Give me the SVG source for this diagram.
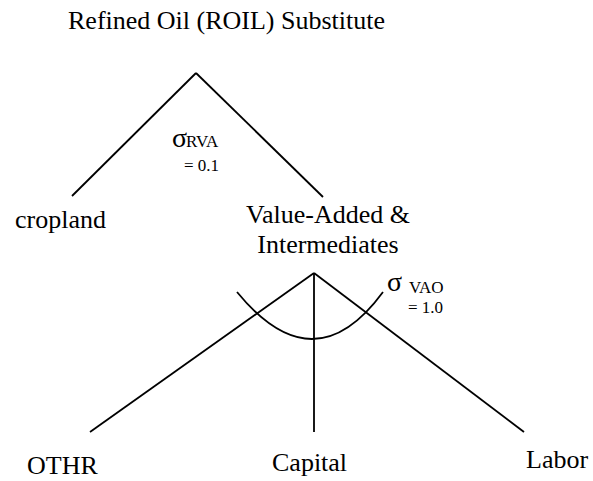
<svg xmlns="http://www.w3.org/2000/svg" width="593" height="481" viewBox="0 0 593 481" font-family="'Liberation Serif', 'Times New Roman', Times, 'DejaVu Serif', serif">
<style>
text{font-family:'Liberation Serif','Times New Roman',Times,'DejaVu Serif',serif;fill:#000}
.lbl{font-size:26px}
.sig{font-size:28px}
.sub{font-size:17px}
.ln{stroke:#000;stroke-width:1.8;fill:none}
</style>
<rect width="593" height="481" fill="#fff"/>
<g id="connectors">
<line class="ln" x1="196" y1="73" x2="72" y2="196"/>
<line class="ln" x1="196" y1="73" x2="323" y2="197"/>
<line class="ln" x1="314" y1="273" x2="90" y2="432"/>
<line class="ln" x1="314" y1="273" x2="314" y2="432"/>
<line class="ln" x1="314" y1="273" x2="524" y2="432"/>
<path class="ln" d="M237,292 Q314,386 383,292"/>
</g>
<g id="node-roil"><text class="lbl" x="68" y="29">Refined Oil (ROIL) Substitute</text></g>
<g id="sigma-rva"><text class="sig" x="172" y="147">σ</text><text class="sub" x="186" y="147">RVA</text><text class="sub" x="184" y="171">= 0.1</text></g>
<g id="node-cropland"><text class="lbl" x="15" y="228">cropland</text></g>
<g id="node-va"><text class="lbl" x="328" y="223" text-anchor="middle">Value-Added &amp;</text><text class="lbl" x="328" y="253" text-anchor="middle">Intermediates</text></g>
<g id="sigma-vao"><text class="sig" x="387" y="291">σ</text><text class="sub" x="409" y="293">VAO</text><text class="sub" x="408" y="313">= 1.0</text></g>
<g id="node-othr"><text class="lbl" x="27" y="474">OTHR</text></g>
<g id="node-capital"><text class="lbl" x="272" y="471">Capital</text></g>
<g id="node-labor"><text class="lbl" x="526" y="468">Labor</text></g>
</svg>
